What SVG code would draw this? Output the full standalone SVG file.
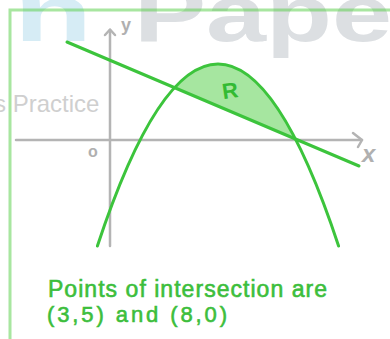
<svg xmlns="http://www.w3.org/2000/svg" width="390" height="339" viewBox="0 0 390 339">
  <style>
    .wm { font-family: "Liberation Sans", Arial, sans-serif; font-weight: bold; }
    .axis { fill: none; stroke: #b4b4b4; stroke-width: 2.5; stroke-linecap: round; stroke-linejoin: round; }
    .curve { fill: none; stroke: #3cc43c; stroke-width: 3; stroke-linecap: round; }
    .lbl { font-family: "Liberation Sans", Arial, sans-serif; fill: #b0b0b0; font-weight: bold; }
    .hand { font-family: "Liberation Sans", Arial, sans-serif; fill: #3cbe3c; stroke: #3cbe3c; stroke-width: 0.6; }
  </style>
  <defs>
    <clipPath id="above">
      <polygon points="0,13.5 390,179.3 390,0 0,0"/>
    </clipPath>
  </defs>
  <rect width="390" height="339" fill="#ffffff"/>
  <g id="watermark">
    <text class="wm" transform="translate(14,41) scale(1.6,1)" font-size="80" fill="#d6ecf5">n</text>
    <text class="wm" transform="translate(134,41) scale(1.35,1)" font-size="80" fill="#dcdfe2">Pape</text>
    <text x="-6" y="112" font-family="Liberation Sans, Arial, sans-serif" font-size="24" fill="#cfcfcf">s Practice</text>
  </g>
  <g id="frame">
    <path d="M10,339 L10,10 L390,10" fill="none" stroke="#51cd41" stroke-opacity="0.5" stroke-width="3"/>
  </g>
  <g id="region-R">
    <path d="M97.4,246 Q218,-117.9 338.6,246 Z" fill="#a6e6a0" stroke="none" clip-path="url(#above)"/>
    <text x="222" y="98" font-family="Liberation Sans, Arial, sans-serif" font-weight="bold" font-size="22" fill="#33bb33" transform="rotate(-8 232 90)">R</text>
  </g>
  <g id="axes">
    <path class="axis" d="M16,140 L362,140"/>
    <path class="axis" d="M353,133 L362,140 L358,147"/>
    <path class="axis" d="M110,246 L110,30"/>
    <path class="axis" d="M105,35 L110,29.5 L115,35"/>
    <text class="lbl" x="121" y="31" font-size="18">y</text>
    <text class="lbl" x="362" y="162" font-size="24" font-style="italic">x</text>
    <text class="lbl" x="88" y="157" font-size="16">o</text>
  </g>
  <g id="connectors">
    <path id="parabola" class="curve" d="M97.4,246 Q218,-117.9 338.6,246"/>
    <path id="line" class="curve" d="M67,42 L359,166"/>
  </g>
  <g id="caption">
    <text class="hand" x="48" y="297" font-size="23" textLength="279" lengthAdjust="spacing">Points of intersection are</text>
    <text class="hand" x="47" y="322" font-size="22" textLength="180" lengthAdjust="spacing">(3,5) and (8,0)</text>
  </g>
</svg>
